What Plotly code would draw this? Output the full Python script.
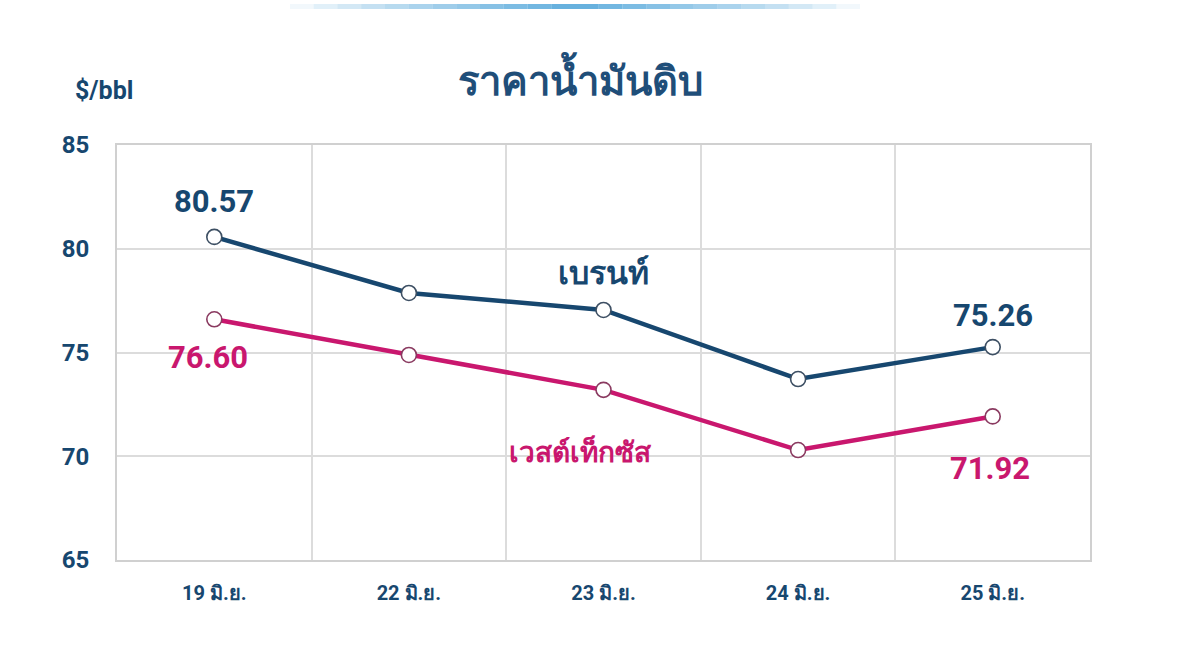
import plotly.graph_objects as go

dates = ["19 มิ.ย.", "22 มิ.ย.", "23 มิ.ย.", "24 มิ.ย.", "25 มิ.ย."]
brent = [80.57, 77.87, 77.05, 73.72, 75.26]
wti = [76.60, 74.88, 73.20, 70.30, 71.92]
y_ticks = [65, 70, 75, 80, 85]

BLUE = "#17476f"
PINK = "#c9176e"
FONT = "Roboto, 'Noto Sans', sans-serif"
xs = list(range(len(dates)))

fig = go.Figure()
marker = dict(size=15, color="white", line=dict(width=1.6, color="#3d4f63"))
fig.add_trace(go.Scatter(x=xs, y=brent, mode="lines+markers", name="เบรนท์",
                         line=dict(color=BLUE, width=4.5), marker=marker))
fig.add_trace(go.Scatter(x=xs, y=wti, mode="lines+markers", name="เวสต์เท็กซัส",
                         line=dict(color=PINK, width=4.5), marker=dict(marker, line=dict(width=1.6, color="#8a3a60"))))

fig.update_layout(
    width=1200, height=651,
    margin=dict(l=117, r=110, t=145, b=91),
    paper_bgcolor="white", plot_bgcolor="white",
    showlegend=False,
    font=dict(family=FONT, color=BLUE),
    xaxis=dict(range=[-0.5, len(dates) - 0.5], tickvals=xs, ticktext=dates,
               showgrid=False, zeroline=False,
               showline=True, mirror=True, linecolor="#d0d0d0", linewidth=2,
               tickfont=dict(size=20, color=BLUE, family=FONT, weight="bold"),
               ticks="outside", ticklen=14, tickcolor="rgba(0,0,0,0)",
               minor=dict(showgrid=True, tick0=0.5, dtick=1, gridcolor="#dcdcdc", gridwidth=2)),
    yaxis=dict(range=[65, 85], tickvals=y_ticks, showgrid=True, gridcolor="#dcdcdc", gridwidth=2,
               zeroline=False, showline=True, mirror=True, linecolor="#d0d0d0", linewidth=2,
               tickfont=dict(size=24, color=BLUE, family=FONT, weight="bold"),
               ticks="outside", ticklen=21, tickcolor="rgba(0,0,0,0)"),
)

# title and unit
fig.add_annotation(text="ราคาน้ำมันดิบ", xref="paper", yref="paper", x=(580 - 117) / 973, y=1, yshift=67,
                   xanchor="center", yanchor="middle", showarrow=False,
                   font=dict(size=40, color="#1f4e79", family=FONT, weight="bold"))
fig.add_annotation(text="$/bbl", xref="paper", yref="paper", x=(104 - 117) / 973, y=1, yshift=55,
                   xanchor="center", yanchor="middle", showarrow=False,
                   font=dict(size=25, color=BLUE, family=FONT, weight="bold"))

# value labels
fig.add_annotation(x=0, y=brent[0], text=f"{brent[0]:.2f}", showarrow=False, yshift=35,
                   font=dict(size=31, color=BLUE, family=FONT, weight="bold"))
fig.add_annotation(x=0, y=wti[0], text=f"{wti[0]:.2f}", showarrow=False, yshift=-38, xshift=-6,
                   font=dict(size=31, color=PINK, family=FONT, weight="bold"))
fig.add_annotation(x=4, y=brent[4], text=f"{brent[4]:.2f}", showarrow=False, yshift=32,
                   font=dict(size=31, color=BLUE, family=FONT, weight="bold"))
fig.add_annotation(x=4, y=wti[4], text=f"{wti[4]:.2f}", showarrow=False, yshift=-52, xshift=-3,
                   font=dict(size=31, color=PINK, family=FONT, weight="bold"))

# series names
fig.add_annotation(x=2, y=brent[2], text="เบรนท์", showarrow=False, yshift=37,
                   font=dict(size=32, color=BLUE, family=FONT, weight="bold"))
fig.add_annotation(x=1.88, y=wti[2], text="เวสต์เท็กซัส", showarrow=False, yshift=-62,
                   font=dict(size=28, color=PINK, family=FONT, weight="bold"))

# decorative gradient strip at top
steps = 24
x0, x1 = 290, 860
for i in range(steps):
    t = (i + 0.5) / steps
    a = max(0.0, 1 - abs(t - 0.5) * 2) ** 0.8
    fig.add_shape(type="rect", xref="paper", yref="paper",
                  x0=(x0 + (x1 - x0) * i / steps - 117) / 973,
                  x1=(x0 + (x1 - x0) * (i + 1) / steps - 117) / 973,
                  y0=1 + (145 - 9) / 415, y1=1 + (145 - 4) / 415,
                  line=dict(width=0), fillcolor=f"rgba(70,160,215,{a*0.85:.2f})")

fig.write_html("out.html")
